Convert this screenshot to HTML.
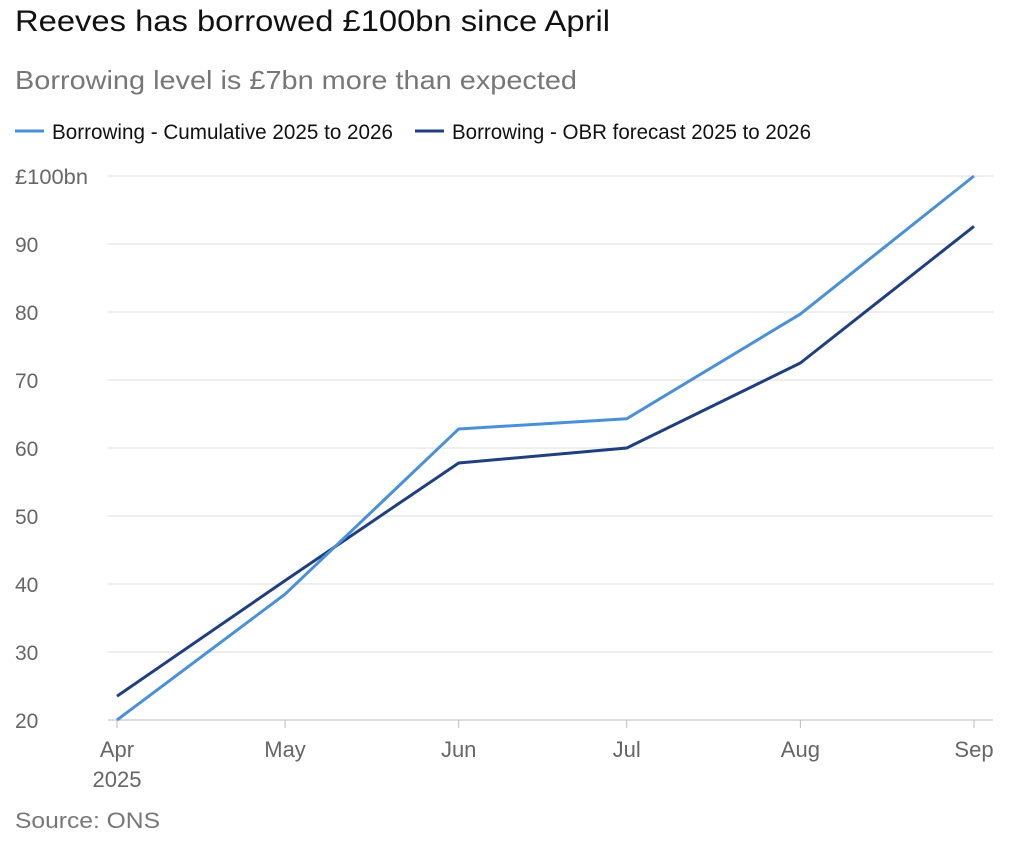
<!DOCTYPE html>
<html><head><meta charset="utf-8"><style>
body{margin:0;background:#fff;width:1024px;height:849px;overflow:hidden;font-family:"Liberation Sans",sans-serif}
</style></head><body>
<svg width="1024" height="849" font-family="Liberation Sans, sans-serif">
<text x="15" y="31" font-size="30" fill="#111" textLength="595" lengthAdjust="spacingAndGlyphs">Reeves has borrowed £100bn since April</text>
<text x="15" y="89" font-size="26" fill="#777" textLength="562" lengthAdjust="spacingAndGlyphs">Borrowing level is £7bn more than expected</text>
<g>
<line x1="15" y1="131" x2="44" y2="131" stroke="#4a90d9" stroke-width="3"/>
<text x="52" y="139" font-size="21" fill="#111" textLength="341" lengthAdjust="spacingAndGlyphs">Borrowing - Cumulative 2025 to 2026</text>
<line x1="415" y1="131" x2="444" y2="131" stroke="#1f3f7f" stroke-width="3"/>
<text x="452" y="139" font-size="21" fill="#111" textLength="359" lengthAdjust="spacingAndGlyphs">Borrowing - OBR forecast 2025 to 2026</text>
</g>
<g id="grid"></g><g id="lines"></g><g id="xax"></g>
<text x="15" y="828" font-size="22" fill="#777" textLength="145" lengthAdjust="spacingAndGlyphs">Source: ONS</text>
</svg>
<script>
const months=["Apr","May","Jun","Jul","Aug","Sep"];
const days=[0,30,61,91,122,153];
const cumulative=[20.0,38.5,62.8,64.3,79.7,100];
const forecast=[23.5,40.5,57.8,60.0,72.5,92.6];
const yTicks=[20,30,40,50,60,70,80,90,100];
const NS="http://www.w3.org/2000/svg";
const x=d=>117+d*(974-117)/153;
const y=v=>720-(v-20)*(720-176)/80;
function mk(t,a,p){const e=document.createElementNS(NS,t);for(const k in a)e.setAttribute(k,a[k]);p.appendChild(e);return e;}
const grid=document.getElementById('grid');
yTicks.forEach(v=>{
 const l=mk('line',{x1:108,x2:993,y1:y(v),y2:y(v),stroke:v==20?'#bbb':'#ddd','stroke-width':1},grid);
 
 
 const a={x:15,y:y(v)+8,'font-size':21,fill:'#666'};
 if(v==100){a.textLength=73;a.lengthAdjust='spacingAndGlyphs';}
 const t=mk('text',a,grid);
 t.textContent=v==100?'£100bn':v;
 
 
});
const xax=document.getElementById('xax');
months.forEach((m,i)=>{
 const cx=x(days[i]);
 const tk=mk('line',{x1:cx,x2:cx,y1:720,y2:728,stroke:'#bbb'},xax);
 
 
 const t=mk('text',{x:cx,y:757,'font-size':22,fill:'#666','text-anchor':'middle'},xax);
 t.textContent=m;
 
 
});
const yr=mk('text',{x:x(0),y:787,'font-size':22,fill:'#666','text-anchor':'middle'},xax);
yr.textContent='2025';


const lines=document.getElementById('lines');
[[forecast,'#1f3f7f','line-forecast'],[cumulative,'#4a90d9','line-cumulative']].forEach(([d,c,n])=>{
 const p=mk('polyline',{points:d.map((v,i)=>x(days[i])+','+y(v)).join(' '),fill:'none',stroke:c,'stroke-width':3,'stroke-linejoin':'round'},lines);
 
 
});
</script>
</body></html>
